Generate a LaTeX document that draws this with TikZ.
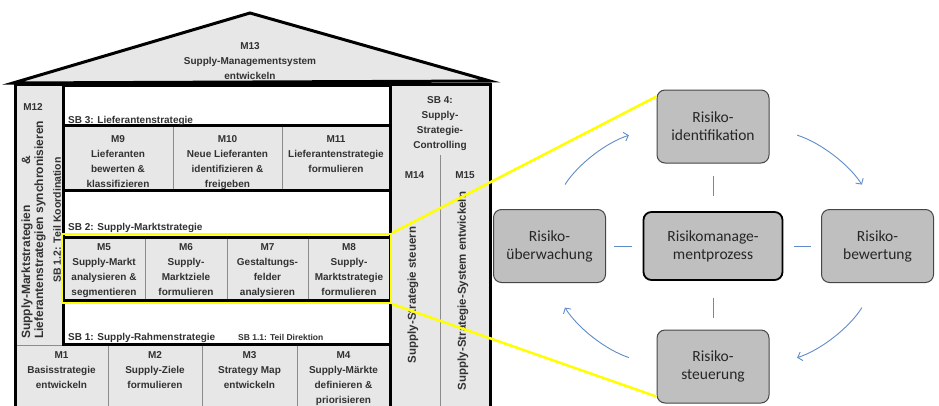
\documentclass[tikz,border=0pt]{standalone}
\usepackage{fontspec}
\setmainfont{Liberation Sans}
\newfontfamily\riskfont{Carlito}
\usetikzlibrary{arrows.meta}

\newlength{\du}
\setlength{\du}{10\unitlength}

\definecolor{cellgray}{RGB}{231,231,231}
\definecolor{housetext}{RGB}{50,50,50}
\definecolor{cellline}{RGB}{140,140,140}
\definecolor{riskfill}{RGB}{191,191,191}
\definecolor{riskline}{RGB}{70,70,70}
\definecolor{riskink}{RGB}{38,38,38}
\definecolor{cycleblue}{RGB}{95,140,200}
\definecolor{zoomyellow}{RGB}{255,255,0}

\tikzset{
  wall/.style={line width=3pt, draw=black},
  divider/.style={line width=0.8pt, draw=cellline},
  celltext/.style={anchor=north, align=center, inner sep=0pt,
    font=\fontsize{10}{15}\selectfont\bfseries, text=housetext},
  sbtext/.style={anchor=base west, inner sep=0pt,
    font=\fontsize{10}{12}\selectfont\bfseries, text=housetext},
  sidetext/.style={rotate=90, align=left, inner sep=0pt,
    font=\fontsize{12}{13}\selectfont\bfseries, text=housetext},
  selbox/.style={draw=zoomyellow, line width=2pt, inner sep=0pt,
    minimum width=32.9\du, minimum height=6.9\du},
  risk/.style={draw=riskline, fill=riskfill, rounded corners=8pt, line width=1pt,
    minimum width=11.2\du, minimum height=7.3\du, align=center, inner sep=1pt,
    font=\riskfont\fontsize{15.5}{18}\selectfont, text=riskink},
  riskcore/.style={risk, draw=black, line width=1.8pt,
    minimum width=13.9\du, minimum height=6.8\du},
  link/.style={draw=cycleblue, line width=0.9pt},
  cyc/.style={draw=cycleblue, line width=0.9pt, shorten <=2.9\du, shorten >=2.9\du,
    -{Straight Barb[length=4pt,width=9pt]}},
  zoomline/.style={draw=zoomyellow, line width=2.5pt}
}

\begin{document}
\begin{tikzpicture}
\pgftransformxscale{1.000000}
\pgftransformyscale{-1.000000}
\useasboundingbox (0\du,0\du) rectangle (93.9\du,40.5\du);
% roof
\draw[wall, fill=cellgray, line join=miter] (1.3\du,8.3\du) -- (25.0\du,1.3\du) -- (49.0\du,8.1\du) -- cycle;
% house body
\fill[cellgray] (1.5\du,8.4\du) rectangle (49.0\du,40.6\du);
\fill[white] (6.3\du,8.5\du) rectangle (39.0\du,34.4\du);
\fill[cellgray] (6.3\du,12.5\du) rectangle (39.0\du,19.0\du);
\fill[cellgray] (6.3\du,23.7\du) rectangle (39.0\du,30.0\du);
% thin cell lines
\draw[divider] (1.5\du,34.5\du) -- (6.3\du,34.5\du);
\draw[divider] (17.3\du,12.5\du) -- (17.3\du,19.0\du);
\draw[divider] (28.2\du,12.5\du) -- (28.2\du,19.0\du);
\draw[divider] (14.5\du,23.7\du) -- (14.5\du,30.0\du);
\draw[divider] (22.7\du,23.7\du) -- (22.7\du,30.0\du);
\draw[divider] (30.8\du,23.7\du) -- (30.8\du,30.0\du);
\draw[divider] (10.8\du,34.4\du) -- (10.8\du,40.6\du);
\draw[divider] (20.2\du,34.4\du) -- (20.2\du,40.6\du);
\draw[divider] (29.7\du,34.4\du) -- (29.7\du,40.6\du);
\draw[divider] (44.0\du,15.5\du) -- (44.0\du,40.6\du);
% thick frames
\draw[wall] (6.3\du,8.5\du) rectangle (39.0\du,34.4\du);
\draw[wall] (6.3\du,12.5\du) rectangle (39.0\du,19.0\du);
\draw[wall] (6.3\du,23.7\du) rectangle (39.0\du,30.0\du);
\draw[wall] (39.0\du,8.4\du) -- (39.0\du,40.6\du);
\draw[wall] (1.5\du,40.6\du) -- (1.5\du,8.4\du) -- (49.0\du,8.4\du) -- (49.0\du,40.6\du);

% setfont house texts
\node[celltext] (m13) at (25.0\du,4.2\du) {M13\\Supply-Managementsystem\\entwickeln};
\node[celltext] (m12) at (3.3\du,10.3\du) {M12};
\node[sidetext, anchor=west] (m12text) at (3.35\du,33.9\du) {Supply-Marktstrategien\hspace{3.4em}\&\\Lieferantenstrategien synchronisieren};
\node[sidetext, font=\fontsize{10.5}{12}\selectfont\bfseries] (sb12) at (5.7\du,22.0\du) {SB 1.2: Teil Koordination};
\node[celltext] (sb4) at (44.0\du,9.65\du) {SB 4:\\Supply-\\Strategie-\\Controlling};
\node[celltext] (m14) at (41.45\du,17.15\du) {M14};
\node[celltext] (m15) at (46.5\du,17.15\du) {M15};
\node[sidetext, font=\fontsize{11.5}{13}\selectfont\bfseries] (m14text) at (41.3\du,29.5\du) {Supply-Strategie steuern};
\node[sidetext, font=\fontsize{11.5}{13}\selectfont\bfseries] (m15text) at (46.3\du,29.1\du) {Supply-Strategie-System entwickeln};
\node[sbtext] (sb3) at (6.8\du,12.35\du) {SB 3: Lieferantenstrategie};
\node[sbtext] (sb2) at (6.8\du,23.0\du) {SB 2: Supply-Marktstrategie};
\node[sbtext] (sb1) at (6.8\du,34.05\du) {SB 1: Supply-Rahmenstrategie};
\node[sbtext, font=\fontsize{8.5}{10}\selectfont\bfseries] (sb11) at (23.8\du,34.0\du) {SB 1.1: Teil Direktion};
\node[celltext] (m9) at (11.8\du,13.55\du) {M9\\Lieferanten\\bewerten \&\\klassifizieren};
\node[celltext] (m10) at (22.75\du,13.55\du) {M10\\Neue Lieferanten\\identifizieren \&\\freigeben};
\node[celltext] (m11) at (33.6\du,13.55\du) {M11\\Lieferantenstrategie\\formulieren};
\node[celltext] (m5) at (10.4\du,24.3\du) {M5\\Supply-Markt\\analysieren \&\\segmentieren};
\node[celltext] (m6) at (18.6\du,24.3\du) {M6\\Supply-\\Marktziele\\formulieren};
\node[celltext] (m7) at (26.75\du,24.3\du) {M7\\Gestaltungs-\\felder\\analysieren};
\node[celltext] (m8) at (34.9\du,24.3\du) {M8\\Supply-\\Marktstrategie\\formulieren};
\node[celltext] (m1) at (6.15\du,35.15\du) {M1\\Basisstrategie\\entwickeln};
\node[celltext] (m2) at (15.5\du,35.15\du) {M2\\Supply-Ziele\\formulieren};
\node[celltext] (m3) at (24.95\du,35.15\du) {M3\\Strategy Map\\entwickeln};
\node[celltext] (m4) at (34.35\du,35.15\du) {M4\\Supply-Märkte\\definieren \&\\priorisieren};
\node[selbox] (sel) at (22.65\du,26.85\du) {};

% risk cycle
\node[risk] (ident) at (71.3\du,12.65\du) {Risiko-\\identifikation};
\node[riskcore] (core) at (71.3\du,24.6\du) {Risikomanage-\\mentprozess};
\node[risk] (bew) at (87.75\du,24.6\du) {Risiko-\\bewertung};
\node[risk] (ueb) at (54.95\du,24.6\du) {Risiko-\\überwachung};
\node[risk] (steu) at (71.3\du,36.65\du) {Risiko-\\steuerung};
\draw[link, shorten <=1.5\du, shorten >=1.2\du] (core) -- (ident);
\draw[link, shorten <=1.7\du, shorten >=1.2\du] (core) -- (steu);
\draw[link, shorten <=1.1\du, shorten >=0.8\du] (core) -- (ueb);
\draw[link, shorten <=1.1\du, shorten >=1.0\du] (core) -- (bew);
\draw[cyc] (ueb.north) to[bend right=20] (ident.west);
\draw[cyc] (ident.east) to[bend right=20] (bew.north);
\draw[cyc] (bew.south) to[bend right=20] (steu.east);
\draw[cyc] (steu.west) to[bend right=20] (ueb.south);
% zoom lines
\draw[zoomline] (sel.north east) -- (ident.152);
\draw[zoomline] (sel.south east) -- (steu.208);
\end{tikzpicture}
\end{document}
